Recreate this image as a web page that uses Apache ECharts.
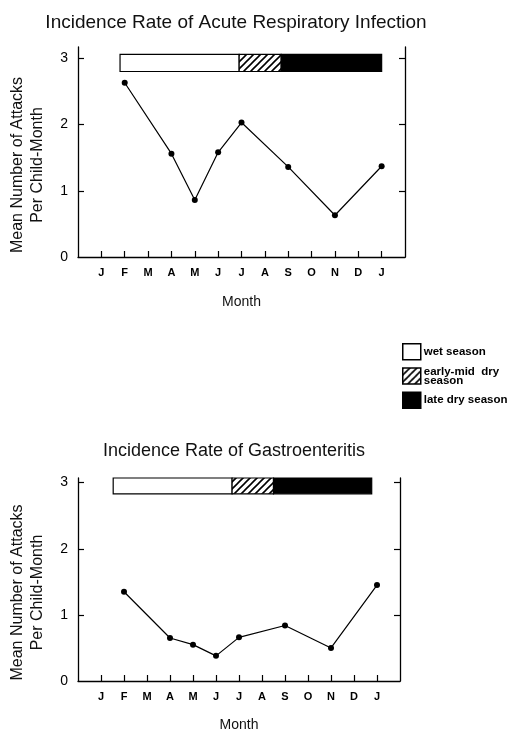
<!DOCTYPE html>
<html>
<head>
<meta charset="utf-8">
<script src="https://cdn.jsdelivr.net/npm/echarts@6/dist/echarts.min.js"></script>
<style>
html,body{margin:0;padding:0;background:#fff;}
#chart{width:512px;height:733px;}
</style>
</head>
<body>
<div id="chart"></div>
<script>
// ---- data ----
const monthTicks = [1,2,3,4,5,6,7,8,9,10,11,12,13];
const monthLabels = ['J','F','M','A','M','J','J','A','S','O','N','D','J'];
const obsMonths = [2,4,5,6,7,9,11,13];
const ariValues = [2.63,1.56,0.86,1.58,2.03,1.36,0.63,1.37];
const gastroValues = [1.35,0.65,0.55,0.38,0.66,0.84,0.50,1.45];
const yTicks = [0,1,2,3];
const seasonNames = ['wet season','early-mid  dry\nseason','late dry season'];
// season spans [start, end] in month units, per chart
const ariSeasons = [[1.8,6.9],[6.9,8.7],[8.7,13.0]];
const gastroSeasons = [[1.53,6.7],[6.7,8.5],[8.5,12.77]];
const ariSeasonBand = [2.80,3.06];
const gastroSeasonBand = [2.83,3.07];
const titles = ['Incidence Rate of Acute Respiratory Infection','Incidence Rate of Gastroenteritis'];

// ---- styling helpers ----
function hatchCanvas(){
  const s = 7;
  const c = document.createElement('canvas');
  c.width = s; c.height = s;
  const g = c.getContext('2d');
  g.fillStyle = '#fff'; g.fillRect(0,0,s,s);
  g.strokeStyle = '#000'; g.lineWidth = 1.6;
  g.beginPath();
  g.moveTo(-1,s+1); g.lineTo(s+1,-1);
  g.moveTo(-1,1); g.lineTo(1,-1);
  g.moveTo(s-1,s+1); g.lineTo(s+1,s-1);
  g.stroke();
  return c;
}
const hatch = {image: hatchCanvas(), repeat: 'repeat'};
const seasonFills = ['#fff', hatch, '#000'];
const FONT = 'Liberation Sans, Arial, Helvetica, sans-serif';

function seasonSeries(idx, spans, band){
  return spans.map((sp, i) => ({
    type: 'custom',
    name: seasonNames[i],
    xAxisIndex: idx, yAxisIndex: idx*2,
    itemStyle: {color: seasonFills[i], borderColor: '#000', borderWidth: 1.2},
    encode: {x: [0,1], y: [2,3]},
    data: [[sp[0], sp[1], band[0], band[1]]],
    renderItem: function(params, api){
      const p0 = api.coord([api.value(0), api.value(3)]);
      const p1 = api.coord([api.value(1), api.value(2)]);
      return {
        type: 'rect',
        shape: {x: p0[0], y: p0[1], width: p1[0]-p0[0], height: p1[1]-p0[1]},
        style: {fill: seasonFills[i], stroke: '#000', lineWidth: 1.2}
      };
    },
    z: 3
  }));
}

function xAxis(idx, gap){
  return {
    type: 'value', gridIndex: idx, min: 0, max: 14, interval: 1,
    name: 'Month', nameLocation: 'middle', nameGap: gap,
    nameTextStyle: {fontFamily: FONT, fontSize: 14, color: '#111'},
    axisLine: {show: true, lineStyle: {color: '#000', width: 1.3}},
    axisTick: {show: true, inside: true, length: 6, customValues: monthTicks, lineStyle: {color: '#000', width: 1.2}},
    axisLabel: {show: true, customValues: monthTicks, margin: 10,
      formatter: v => monthLabels[Math.round(v)-1] || '',
      fontFamily: FONT, fontSize: 11, fontWeight: 'bold', color: '#000'},
    splitLine: {show: false}
  };
}
function yAxes(idx, max){
  const common = {
    type: 'value', gridIndex: idx, min: 0, max: max,
    splitLine: {show: false},
    axisLine: {show: true, onZero: false, lineStyle: {color: '#000', width: 1.3}},
    axisTick: {show: true, inside: true, length: 6, customValues: [1,2,3], lineStyle: {color: '#000', width: 1.2}}
  };
  return [
    Object.assign({}, common, {
      position: 'left',
      name: 'Mean Number of Attacks\nPer Child-Month',
      nameLocation: 'middle', nameGap: 30, nameRotate: 90,
      nameTextStyle: {fontFamily: FONT, fontSize: 16, lineHeight: 20, color: '#111', padding: [0,26,0,0]},
      axisLabel: {show: true, customValues: yTicks, margin: 10, fontFamily: FONT, fontSize: 14, color: '#000'}
    }),
    Object.assign({}, common, {
      position: 'right',
      axisLabel: {show: false}
    })
  ];
}

const chart = echarts.init(document.getElementById('chart'), null, {renderer: 'canvas'});
const option = {
  animation: false,
  backgroundColor: '#fff',
  title: [
    {text: titles[0], left: 236, top: 13, textAlign: 'center', padding: 0,
     textStyle: {fontFamily: FONT, fontSize: 19, fontWeight: 'normal', color: '#111'}},
    {text: titles[1], left: 234, top: 442, textAlign: 'center', padding: 0,
     textStyle: {fontFamily: FONT, fontSize: 18, fontWeight: 'normal', color: '#111'}}
  ],
  legend: {
    orient: 'vertical', left: 402, top: 343, padding: 0,
    itemWidth: 18, itemHeight: 16, itemGap: 5, icon: 'rect',
    selectedMode: false,
    data: seasonNames,
    itemStyle: {borderColor: '#000', borderWidth: 1.5},
    textStyle: {fontFamily: FONT, fontSize: 11.5, fontWeight: 'bold', color: '#000', lineHeight: 9, padding: [0,0,0,-2]}
  },
  grid: [
    {left: 75, right: 107, top: 47, bottom: 476},
    {left: 70, right: 112, top: 478, bottom: 50}
  ],
  xAxis: [xAxis(0, 38), xAxis(1, 37)],
  yAxis: yAxes(0, 3.17).concat(yAxes(1, 3.07)),
  series: [
    {type: 'line', name: 'ARI', xAxisIndex: 0, yAxisIndex: 0,
     data: obsMonths.map((m,i) => [m, ariValues[i]]),
     symbol: 'circle', symbolSize: 6, lineStyle: {color: '#000', width: 1.2},
     itemStyle: {color: '#000'}, z: 4},
    {type: 'line', name: 'Gastro', xAxisIndex: 1, yAxisIndex: 2,
     data: obsMonths.map((m,i) => [m, gastroValues[i]]),
     symbol: 'circle', symbolSize: 6, lineStyle: {color: '#000', width: 1.2},
     itemStyle: {color: '#000'}, z: 4}
  ].concat(seasonSeries(0, ariSeasons, ariSeasonBand), seasonSeries(1, gastroSeasons, gastroSeasonBand))
};
chart.setOption(option);
</script>
</body>
</html>
